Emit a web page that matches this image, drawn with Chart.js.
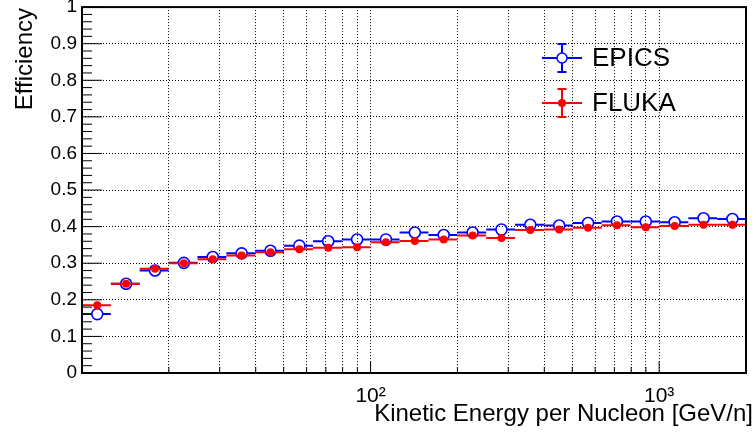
<!DOCTYPE html>
<html>
<head>
<meta charset="utf-8">
<script src="https://cdn.jsdelivr.net/npm/chart.js@4.4.0/dist/chart.umd.min.js"></script>
<style>
  html, body { margin: 0; padding: 0; background: #fff; }
</style>
</head>
<body>
<canvas id="effChart" width="756" height="434"></canvas>
<script>
// bin edges in kinetic energy per nucleon (GeV/n), 23 log bins from 10 to 2000
const binEdges = [10, 12.59, 15.85, 19.96, 25.13, 31.64, 39.84, 50.16, 63.15, 79.51,
  100.1, 126.0, 158.7, 199.8, 251.6, 316.7, 398.8, 502.1, 632.2, 795.9,
  1002, 1262, 1589, 2000];

const epicsEff = [0.161, 0.244, 0.280, 0.301, 0.317, 0.327, 0.334, 0.348, 0.360, 0.365,
  0.365, 0.384, 0.377, 0.384, 0.392, 0.405, 0.403, 0.410, 0.414, 0.414,
  0.412, 0.423, 0.421];
const epicsErr = [0.004, 0.004, 0.004, 0.004, 0.004, 0.004, 0.004, 0.004, 0.004, 0.004,
  0.005, 0.005, 0.005, 0.005, 0.005, 0.005, 0.006, 0.006, 0.006, 0.007,
  0.008, 0.009, 0.010];

const flukaEff = [0.185, 0.244, 0.285, 0.300, 0.311, 0.321, 0.330, 0.338, 0.342, 0.344,
  0.357, 0.361, 0.365, 0.376, 0.369, 0.391, 0.392, 0.397, 0.404, 0.398,
  0.402, 0.405, 0.405];
const flukaErr = [0.004, 0.004, 0.004, 0.004, 0.004, 0.004, 0.004, 0.004, 0.004, 0.004,
  0.005, 0.005, 0.005, 0.005, 0.005, 0.005, 0.006, 0.006, 0.006, 0.007,
  0.008, 0.009, 0.011];

const yTickValues = [0, 0.1, 0.2, 0.3, 0.4, 0.5, 0.6, 0.7, 0.8, 0.9, 1];
const xGridValues = [20, 30, 40, 50, 60, 70, 80, 90, 100, 200, 300, 400, 500, 600, 700, 800, 900, 1000, 2000];
const xLabels = { 100: "10\u00B2", 1000: "10\u00B3" };

const FONT = "'Liberation Sans', Arial, Helvetica, sans-serif";
const BLUE = "#0000ff";
const RED = "#ff0000";

function toPoints(vals, errs) {
  return vals.map((v, i) => ({
    x: (binEdges[i] + binEdges[i + 1]) / 2,
    y: v,
    lo: binEdges[i],
    hi: binEdges[i + 1],
    err: errs[i]
  }));
}

// horizontal bin-width bars and vertical error bars, ROOT style
const errorBars = {
  id: "errorBars",
  beforeDatasetDraw(chart, args) {
    const ds = chart.data.datasets[args.index];
    const xs = chart.scales.x, ys = chart.scales.y;
    const ctx = chart.ctx;
    const gap = ds.hollow ? ds.pointRadius : 0;
    ctx.save();
    ctx.strokeStyle = ds.borderColor;
    ctx.lineWidth = 2;
    ds.data.forEach(p => {
      const cx = xs.getPixelForValue(p.x), cy = ys.getPixelForValue(p.y);
      const x0 = xs.getPixelForValue(p.lo), x1 = xs.getPixelForValue(p.hi);
      const yTop = ys.getPixelForValue(p.y + p.err), yBot = ys.getPixelForValue(p.y - p.err);
      ctx.beginPath();
      ctx.moveTo(x0, cy); ctx.lineTo(cx - gap, cy);
      ctx.moveTo(cx + gap, cy); ctx.lineTo(x1, cy);
      if (cy - yTop > gap) {
        ctx.moveTo(cx, cy - gap); ctx.lineTo(cx, yTop);
        ctx.moveTo(cx, cy + gap); ctx.lineTo(cx, yBot);
      }
      ctx.stroke();
    });
    ctx.restore();
  }
};

// frame, inward tick marks, axis titles and legend box
const frameDecor = {
  id: "frameDecor",
  afterDraw(chart) {
    const { ctx, chartArea: a } = chart;
    const xs = chart.scales.x, ys = chart.scales.y;
    ctx.save();
    ctx.strokeStyle = "#000";
    ctx.lineWidth = 1;
    ctx.beginPath();
    for (let i = 0; i <= 50; i++) {
      const y = ys.getPixelForValue(i * 0.02);
      const len = i % 5 === 0 ? 20 : 10;
      ctx.moveTo(a.left, y); ctx.lineTo(a.left + len, y);
    }
    xGridValues.forEach(v => {
      const x = xs.getPixelForValue(v);
      const len = (v === 100 || v === 1000) ? 12 : 6;
      ctx.moveTo(x, a.bottom); ctx.lineTo(x, a.bottom - len);
    });
    ctx.stroke();
    ctx.lineWidth = 2;
    ctx.strokeRect(a.left, a.top, a.right - a.left, a.bottom - a.top);

    ctx.fillStyle = "#000";
    ctx.font = "24px " + FONT;
    ctx.textAlign = "right";
    ctx.textBaseline = "alphabetic";
    ctx.fillText("Kinetic Energy per Nucleon [GeV/n]", 753, 421);
    ctx.save();
    ctx.translate(32, 8);
    ctx.rotate(-Math.PI / 2);
    ctx.fillText("Efficiency", 0, 0);
    ctx.restore();

    // legend
    const entries = [
      { label: "EPICS", color: BLUE, y: 58, hollow: true, r: 5 },
      { label: "FLUKA", color: RED, y: 103, hollow: false, r: 4 }
    ];
    entries.forEach(e => {
      const mx = 562;
      ctx.strokeStyle = e.color;
      ctx.lineWidth = 2;
      const g = e.hollow ? e.r : 0;
      ctx.beginPath();
      ctx.moveTo(542, e.y); ctx.lineTo(mx - g, e.y);
      ctx.moveTo(mx + g, e.y); ctx.lineTo(582, e.y);
      ctx.moveTo(mx, e.y - 14); ctx.lineTo(mx, e.y - g);
      ctx.moveTo(mx, e.y + g); ctx.lineTo(mx, e.y + 14);
      ctx.moveTo(mx - 4.5, e.y - 14); ctx.lineTo(mx + 4.5, e.y - 14);
      ctx.moveTo(mx - 4.5, e.y + 14); ctx.lineTo(mx + 4.5, e.y + 14);
      ctx.stroke();
      ctx.beginPath();
      ctx.arc(mx, e.y, e.r, 0, Math.PI * 2);
      if (e.hollow) { ctx.lineWidth = 1.5; ctx.stroke(); }
      else { ctx.fillStyle = e.color; ctx.fill(); }
      ctx.fillStyle = "#000";
      ctx.font = "26px " + FONT;
      ctx.textAlign = "left";
      ctx.textBaseline = "middle";
      ctx.fillText(e.label, 592, e.y + 1);
    });
    ctx.restore();
  }
};

new Chart(document.getElementById("effChart").getContext("2d"), {
  type: "scatter",
  data: {
    datasets: [
      {
        label: "EPICS",
        data: toPoints(epicsEff, epicsErr),
        borderColor: BLUE,
        backgroundColor: "rgba(0,0,0,0)",
        pointRadius: 5.5,
        pointBorderWidth: 1.6,
        hollow: true,
        order: 2
      },
      {
        label: "FLUKA",
        data: toPoints(flukaEff, flukaErr),
        borderColor: RED,
        backgroundColor: RED,
        pointRadius: 4,
        pointBorderWidth: 0,
        hollow: false,
        order: 1
      }
    ]
  },
  options: {
    responsive: false,
    devicePixelRatio: 1,
    animation: false,
    layout: { padding: { top: 7, right: 10, left: 0, bottom: 0 } },
    plugins: { legend: { display: false }, tooltip: { enabled: false } },
    scales: {
      x: {
        type: "logarithmic",
        min: 10,
        max: 2000,
        afterBuildTicks: s => { s.ticks = xGridValues.map(v => ({ value: v })); },
        afterFit: s => { s.height = 61; s.paddingLeft = 0; s.paddingRight = 0; },
        grid: { color: "#000", lineWidth: 1, drawTicks: false },
        border: { display: false, dash: [1, 2] },
        ticks: {
          autoSkip: false,
          maxRotation: 0,
          padding: 11,
          color: "#000",
          font: { family: FONT, size: 21 },
          callback: v => xLabels[v] || ""
        }
      },
      y: {
        min: 0,
        max: 1,
        afterBuildTicks: s => { s.ticks = yTickValues.map(v => ({ value: v })); },
        afterFit: s => { s.width = 82; s.paddingTop = 0; s.paddingBottom = 0; },
        grid: { color: "#000", lineWidth: 1, drawTicks: false },
        border: { display: false, dash: [1, 2] },
        ticks: {
          padding: 5,
          color: "#000",
          font: { family: FONT, size: 19 },
          callback: v => (v === 0 ? "0" : v === 1 ? "1" : v.toFixed(1))
        }
      }
    }
  },
  plugins: [errorBars, frameDecor]
});
</script>
</body>
</html>
